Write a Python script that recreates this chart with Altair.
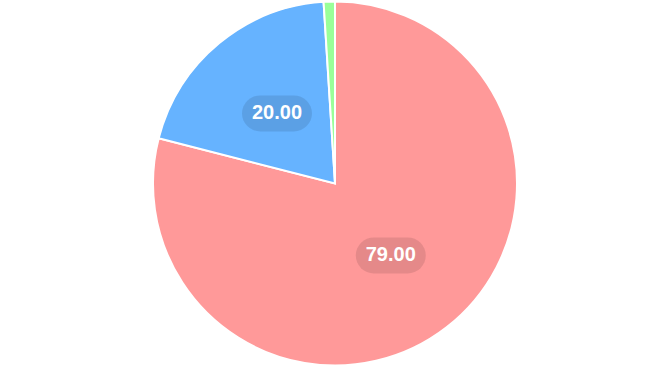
import altair as alt
import pandas as pd

categories = ["A", "B", "C"]
values = [79.0, 20.0, 1.0]
colors = ["#ff9999", "#66b3ff", "#99ff99"]

df = pd.DataFrame({"cat": categories, "value": values, "idx": list(range(len(values)))})

W, H, R = 670, 367, 182
xd = W / 2 / R
yd = H / 2 / R

base = alt.Chart(df)

pie = base.mark_arc(radius=R, stroke="white", strokeWidth=2).encode(
    theta=alt.Theta("value:Q", stack=True),
    order=alt.Order("idx:Q"),
    color=alt.Color("cat:N", scale=alt.Scale(domain=categories, range=colors), legend=None),
)

lab = (
    base.transform_joinaggregate(total="sum(value)")
    .transform_window(cum="sum(value)", sort=[alt.SortField("idx")], frame=[None, 0])
    .transform_calculate(
        mid="(datum.cum - datum.value/2) / datum.total * 2 * PI",
        px="0.5 * sin(datum.mid)",
        py="0.5 * cos(datum.mid)",
        px1="0.5 * sin(datum.mid) - 17/182",
        px2="0.5 * sin(datum.mid) + 17/182",
        label="format(datum.value, '.2f')",
    )
    .transform_filter("datum.value / datum.total >= 0.03")
)

xs = alt.Scale(domain=[-xd, xd], nice=False, zero=False)
ys = alt.Scale(domain=[-yd, yd], nice=False, zero=False)

pill = lab.mark_rule(strokeWidth=36, strokeCap="round", color="black", opacity=0.1).encode(
    x=alt.X("px1:Q", scale=xs, axis=None),
    x2="px2:Q",
    y=alt.Y("py:Q", scale=ys, axis=None),
)

text = lab.mark_text(
    font="Liberation Sans", fontSize=20, fontWeight="bold", color="white", baseline="middle", align="center"
).encode(
    x=alt.X("px:Q", scale=xs, axis=None),
    y=alt.Y("py:Q", scale=ys, axis=None),
    text="label:N",
)

chart = (
    alt.layer(pie, pill, text)
    .properties(width=W, height=H, autosize=alt.AutoSizeParams(type="none"), padding=0)
    .configure_view(stroke=None)
)

chart.save("out.html", embed_options={"renderer": "svg", "actions": False})
